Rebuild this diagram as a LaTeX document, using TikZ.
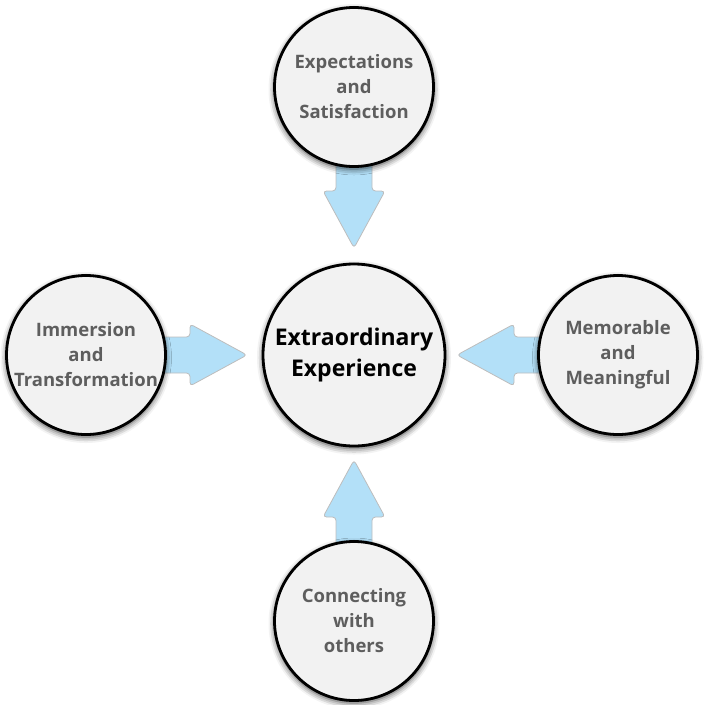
\documentclass[tikz,border=0pt]{standalone}
\usepackage{fontspec}
\setmainfont{Open Sans}
\usetikzlibrary{calc,shadows.blur}

\definecolor{ringfill}{HTML}{F2F2F2}
\definecolor{labelgrey}{HTML}{5E5E5E}
\definecolor{arrowfill}{HTML}{B3E0F8}
\definecolor{arrowline}{HTML}{BDBDBD}

\tikzset{
  ring/.style={circle, draw=black, line width=2.8pt, fill=ringfill,
    align=center, inner sep=0pt,
    blur shadow={shadow xshift=0pt, shadow yshift=-2.5pt,
      shadow blur radius=6pt, shadow opacity=75}},
  outer/.style={ring, minimum size=159pt, text=labelgrey,
    font=\bfseries\fontsize{18.5}{25}\selectfont},
  hub/.style={ring, minimum size=182pt, text=black,
    font=\bfseries\fontsize{23}{31}\selectfont},
  fatarrow/.style={fill=arrowfill, draw=arrowline, line width=0.8pt,
    rounded corners=3.5pt, line join=round},
}

% broad block arrow from an outer circle towards the hub
\newcommand\blockarrow[2]{%
  \coordinate (#1-s) at ($(#1.center)!70pt!(#2.center)$);
  \coordinate (#1-b) at ($(#1.center)!104pt!(#2.center)$);
  \coordinate (#1-t) at ($(#1.center)!161pt!(#2.center)$);
  \draw[fatarrow]
    ($(#1-s)!18pt!90:(#1-t)$) -- ($(#1-b)!18pt!90:(#1-t)$)
    -- ($(#1-b)!31pt!90:(#1-t)$) -- (#1-t)
    -- ($(#1-b)!31pt!-90:(#1-t)$) -- ($(#1-b)!18pt!-90:(#1-t)$)
    -- ($(#1-s)!18pt!-90:(#1-t)$) -- cycle;
}

\begin{document}
\begin{tikzpicture}[x=1pt,y=-1pt]
  \useasboundingbox (0,0) rectangle (704,705);

  % node positions (drawn after the arrows so the shafts tuck under the rims)
  \path (354,355) coordinate (hubpos)
        (354,87)  coordinate (toppos)
        (86,355)  coordinate (leftpos)
        (618,355) coordinate (rightpos)
        (354,621) coordinate (botpos);

  \begin{scope}[opacity=0]
    \node[hub]   (hub)   at (hubpos)   {};
    \node[outer] (top)   at (toppos)   {};
    \node[outer] (left)  at (leftpos)  {};
    \node[outer] (right) at (rightpos) {};
    \node[outer] (bot)   at (botpos)   {};
  \end{scope}

  \blockarrow{top}{hub}
  \blockarrow{left}{hub}
  \blockarrow{right}{hub}
  \blockarrow{bot}{hub}

  \node[hub]   (hubC)   at (hubpos)   {Extraordinary\\Experience};
  \node[outer] (topC)   at (toppos)   {Expectations\\and\\Satisfaction};
  \node[outer] (leftC)  at (leftpos)  {Immersion\\and\\Transformation};
  \node[outer] (rightC) at (rightpos) {Memorable\\and\\Meaningful};
  \node[outer] (botC)   at (botpos)   {Connecting\\with\\others};
\end{tikzpicture}
\end{document}
